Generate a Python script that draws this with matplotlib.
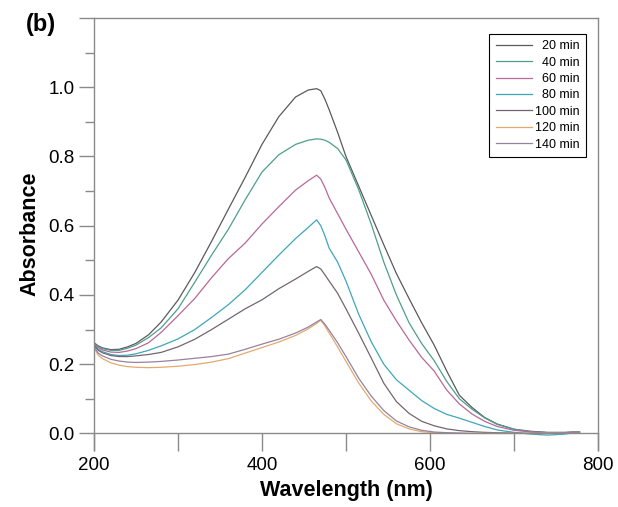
import numpy as np
import matplotlib
matplotlib.use('Agg')
import matplotlib.pyplot as plt
from matplotlib.ticker import MultipleLocator

plt.rcParams['font.family'] = ['Liberation Sans', 'DejaVu Sans']

# wavelength grid (nm) shared by all spectra
wavelength = [200, 205, 210, 220, 230, 240, 250, 265, 280, 300, 320, 340, 360, 380, 400,
              420, 440, 455, 465, 470, 475, 480, 490, 500, 515, 530, 545, 560, 575, 590,
              605, 620, 635, 650, 665, 680, 700, 720, 740, 760, 778]

a20 = [0.262, 0.253, 0.247, 0.242, 0.243, 0.250, 0.260, 0.285, 0.322, 0.385, 0.465, 0.555, 0.648, 0.740, 0.835,
       0.915, 0.972, 0.992, 0.996, 0.990, 0.965, 0.935, 0.870, 0.800, 0.715, 0.630, 0.545, 0.462, 0.390, 0.320,
       0.255, 0.180, 0.110, 0.075, 0.046, 0.027, 0.012, 0.006, 0.003, 0.003, 0.005]
a40 = [0.260, 0.251, 0.245, 0.240, 0.240, 0.246, 0.255, 0.277, 0.305, 0.360, 0.437, 0.515, 0.590, 0.675, 0.755,
       0.805, 0.835, 0.847, 0.851, 0.850, 0.847, 0.841, 0.823, 0.790, 0.705, 0.605, 0.495, 0.400, 0.320, 0.260,
       0.210, 0.150, 0.100, 0.070, 0.045, 0.026, 0.012, 0.005, 0.002, 0.002, 0.004]
a60 = [0.258, 0.248, 0.241, 0.235, 0.234, 0.238, 0.245, 0.262, 0.292, 0.340, 0.390, 0.450, 0.505, 0.550, 0.605,
       0.655, 0.703, 0.730, 0.746, 0.735, 0.710, 0.680, 0.635, 0.590, 0.525, 0.460, 0.385, 0.325, 0.270, 0.220,
       0.180, 0.125, 0.085, 0.056, 0.035, 0.020, 0.009, 0.004, 0.002, 0.002, 0.004]
a80 = [0.255, 0.243, 0.236, 0.228, 0.225, 0.226, 0.230, 0.240, 0.253, 0.273, 0.300, 0.335, 0.372, 0.415, 0.465,
       0.515, 0.563, 0.595, 0.617, 0.600, 0.570, 0.535, 0.495, 0.440, 0.345, 0.265, 0.200, 0.155, 0.125, 0.095,
       0.072, 0.055, 0.044, 0.032, 0.020, 0.010, 0.003, -0.002, -0.005, -0.002, 0.004]
a100 = [0.255, 0.240, 0.233, 0.225, 0.222, 0.222, 0.224, 0.228, 0.234, 0.250, 0.272, 0.300, 0.330, 0.360, 0.386,
        0.418, 0.446, 0.468, 0.482, 0.475, 0.458, 0.440, 0.405, 0.360, 0.290, 0.218, 0.145, 0.092, 0.058, 0.035,
        0.022, 0.013, 0.008, 0.005, 0.003, 0.002, 0.001, 0.000, 0.000, 0.001, 0.003]
a120 = [0.248, 0.226, 0.216, 0.204, 0.197, 0.193, 0.191, 0.190, 0.191, 0.194, 0.199, 0.206, 0.216, 0.232, 0.248,
        0.264, 0.283, 0.302, 0.318, 0.327, 0.310, 0.290, 0.250, 0.208, 0.146, 0.094, 0.055, 0.028, 0.013, 0.005,
        0.002, 0.001, 0.000, 0.000, 0.000, 0.000, 0.000, 0.000, 0.001, 0.002, 0.003]
a140 = [0.250, 0.232, 0.224, 0.214, 0.209, 0.206, 0.205, 0.206, 0.208, 0.212, 0.217, 0.222, 0.229, 0.243, 0.258,
        0.272, 0.290, 0.307, 0.322, 0.329, 0.315, 0.298, 0.262, 0.222, 0.160, 0.108, 0.066, 0.036, 0.019, 0.009,
        0.004, 0.002, 0.001, 0.000, 0.000, 0.000, 0.000, 0.000, 0.001, 0.002, 0.003]

# figure space pads the two-digit labels so they line up on the right
labels = ['\u200720 min', '\u200740 min', '\u200760 min', '\u200780 min', '100 min', '120 min', '140 min']
series = [a20, a40, a60, a80, a100, a120, a140]
colors = ['#5a5a5a', '#4f9e8c', '#b8689a', '#3fa6b8', '#746670', '#e3aa70', '#95849f']

fig = plt.figure(figsize=(6.18, 5.07), dpi=100)
ax = fig.add_axes([0.1521, 0.1124, 0.8155, 0.852])

for y, lab, c in zip(series, labels, colors):
    ax.plot(wavelength, y, color=c, lw=0.9, label=lab)

ax.set_xlim(200, 800)
ax.set_ylim(-0.048, 1.2)

spine_c = '#8a8a8a'
for s in ax.spines.values():
    s.set_color(spine_c)
    s.set_linewidth(1.0)
ax.spines['bottom'].set_position(('data', 0))

ax.xaxis.set_major_locator(MultipleLocator(200))
ax.xaxis.set_minor_locator(MultipleLocator(100))
ax.yaxis.set_minor_locator(MultipleLocator(0.1))
ax.set_yticks([0.0, 0.2, 0.4, 0.6, 0.8, 1.0, 1.2])
ax.set_yticklabels(['0.0', '0.2', '0.4', '0.6', '0.8', '1.0', ''])

ax.tick_params(axis='x', which='both', direction='out', length=13, width=1.0,
               color=spine_c, labelsize=13.5, pad=4)
ax.tick_params(axis='y', which='major', direction='out', length=11, width=1.0,
               color=spine_c, labelsize=13.5, pad=3)
ax.tick_params(axis='y', which='minor', direction='out', length=6.5, width=1.0, color=spine_c)

ax.set_xlabel('Wavelength (nm)', fontsize=15.5, fontweight='bold', labelpad=4)
ax.set_ylabel('Absorbance', fontsize=15.5, fontweight='bold', labelpad=6)

fig.text(0.042, 0.951, '(b)', fontsize=17, fontweight='bold', ha='left', va='center')

leg = ax.legend(loc='upper right', bbox_to_anchor=(0.976, 0.963), borderaxespad=0,
                fontsize=9, frameon=True, fancybox=False, framealpha=1,
                handlelength=2.9, handletextpad=0.25, labelspacing=0.35, borderpad=0.5)
leg.get_frame().set_edgecolor('black')
leg.get_frame().set_linewidth(0.8)

fig.savefig('out.png', dpi=100)
